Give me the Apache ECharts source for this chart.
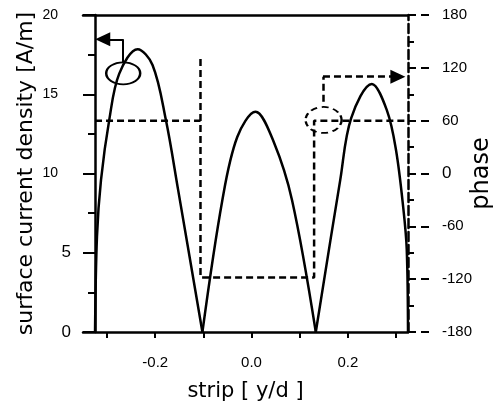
<!DOCTYPE html>
<html>
<head>
<meta charset="utf-8">
<script src="https://cdn.jsdelivr.net/npm/echarts@6/dist/echarts.min.js"></script>
<style>
html, body { margin: 0; padding: 0; background: #fff; }
#main { width: 499px; height: 407px; }
</style>
</head>
<body>
<div id="main"></div>
<script>
// surface current density [A/m] along the strip, one arch between each zero
var arch1 = [[-0.325, 0], [-0.321, 6.0], [-0.3126, 9.6], [-0.2954, 13.4], [-0.2747, 16.3],
             [-0.2366, 17.84], [-0.2056, 16.85], [-0.178, 13.4], [-0.1526, 9.0], [-0.102, 0]];
var arch2 = [[-0.102, 0], [-0.0607, 8.3], [-0.0296, 12.3], [0.0083, 13.9],
             [0.046, 12.0], [0.0843, 8.3], [0.1335, 0]];
var arch3 = [[0.1335, 0], [0.1843, 9.6], [0.207, 13.5], [0.2499, 15.65],
             [0.281, 14.0], [0.3, 11.5], [0.3153, 7.8], [0.3224, 5.2], [0.325, 0]];

// phase [deg], dashed
var phaseLeft = [[-0.325, 60], [-0.106, 60]];
var phaseRest = [[-0.106, 130], [-0.106, -118], [0.130, -118], [0.130, 60], [0.325, 60]];

// tick values
var xTicks = [-0.3, -0.2, -0.1, 0, 0.1, 0.2, 0.3];
var xLabels = [-0.2, 0, 0.2];

// which curve belongs to which axis
var solidRing = [-0.2665, 16.32];
var solidArrow = [[-0.2665, 17.0], [-0.2665, 18.47], [-0.309, 18.47]];
var dashedRing = [0.1497, 60.8];
var dashedArrow = [[0.1484, 81.5], [0.1484, 110], [0.304, 110]];

var tickFont = '"Liberation Sans", Arial, sans-serif';
var titleFont = '"DejaVu Sans", sans-serif';

var chart = echarts.init(document.getElementById('main'), null, { renderer: 'canvas' });

function curve(data) {
    return {
        type: 'line',
        xAxisIndex: 0,
        yAxisIndex: 0,
        data: data,
        symbol: 'none',
        smooth: 0.35,
        lineStyle: { color: '#000', width: 2.5 },
        silent: true
    };
}

var s1 = curve(arch1);
s1.markPoint = {
    silent: true,
    data: [{
        coord: solidRing, symbol: 'circle', symbolSize: [34, 22],
        itemStyle: { color: 'transparent', borderColor: '#000', borderWidth: 2 },
        label: { show: false }
    }]
};
s1.markLine = {
    silent: true,
    symbol: ['none', 'none'],
    label: { show: false },
    lineStyle: { color: '#000', width: 2, type: 'solid' },
    data: [
        [{ coord: solidArrow[0] }, { coord: solidArrow[1] }],
        [{ coord: solidArrow[1] }, { coord: solidArrow[2], symbol: 'triangle', symbolSize: [14, 15] }]
    ]
};

var phaseStyle = { color: '#000', width: 2.5, type: [7, 4] };

var option = {
    animation: false,
    backgroundColor: '#fff',
    grid: { left: 83, right: 91, top: 15, bottom: 75, containLabel: false, outerBoundsMode: 'none' },
    xAxis: [{
        type: 'value',
        min: -0.35,
        max: 0.325,
        position: 'bottom',
        axisLine: { show: true, onZero: false, lineStyle: { color: '#000', width: 2.5 } },
        axisTick: { show: true, length: 6, customValues: xTicks, lineStyle: { color: '#000', width: 2 } },
        axisLabel: {
            customValues: xLabels,
            margin: 23,
            color: '#000',
            fontFamily: tickFont,
            fontSize: 15,
            formatter: function (v) { return v.toFixed(1); }
        },
        splitLine: { show: false },
        name: 'strip [ y/d ]',
        nameLocation: 'middle',
        nameMoveOverlap: false,
        nameGap: 49,
        nameTextStyle: { color: '#000', fontFamily: titleFont, fontSize: 21 }
    }, {
        type: 'value',
        min: -0.35,
        max: 0.325,
        position: 'top',
        axisLine: { show: true, onZero: false, lineStyle: { color: '#000', width: 2.5 } },
        axisTick: { show: false },
        axisLabel: { show: false },
        splitLine: { show: false }
    }],
    yAxis: [{
        type: 'value',
        min: 0,
        max: 20,
        interval: 5,
        position: 'left',
        offset: -12,
        axisLine: { show: true, onZero: false, lineStyle: { color: '#000', width: 2.5 } },
        axisTick: { show: true, length: 12, lineStyle: { color: '#000', width: 2 } },
        minorTick: { show: true, splitNumber: 2, length: 7, lineStyle: { color: '#000', width: 2 } },
        axisLabel: {
            margin: 24,
            formatter: function (v) { return v >= 10 ? '{n|' + v + '}' : '{w|' + v + '}'; },
            rich: {
                n: { color: '#000', fontFamily: tickFont, fontSize: 14, padding: [0, 13, 0, 0] },
                w: { color: '#000', fontFamily: tickFont, fontSize: 17 }
            }
        },
        splitLine: { show: false },
        name: 'surface current density [A/m]',
        nameLocation: 'middle',
        nameMoveOverlap: false,
        nameRotate: 90,
        nameGap: 58,
        nameTextStyle: { color: '#000', fontFamily: titleFont, fontSize: 22 }
    }, {
        type: 'value',
        min: -180,
        max: 180,
        interval: 60,
        position: 'right',
        axisLine: { show: true, onZero: false, lineStyle: { color: '#000', width: 2.5, type: [9, 4] } },
        axisTick: { show: true, length: 22, lineStyle: { color: '#000', width: 2, type: [8, 5] } },
        minorTick: { show: true, splitNumber: 2, length: 9, lineStyle: { color: '#000', width: 2, type: [6, 4] } },
        axisLabel: {
            margin: 34,
            formatter: function (v) { return v === 0 ? '{w|0}' : '{n|' + v + '}'; },
            rich: {
                n: { color: '#000', fontFamily: tickFont, fontSize: 15 },
                w: { color: '#000', fontFamily: tickFont, fontSize: 17 }
            }
        },
        splitLine: { show: false },
        name: 'phase',
        nameLocation: 'middle',
        nameMoveOverlap: false,
        nameRotate: 90,
        nameGap: 62,
        nameTextStyle: { color: '#000', fontFamily: titleFont, fontSize: 24 }
    }],
    series: [
        s1,
        curve(arch2),
        curve(arch3),
        {
            type: 'line',
            xAxisIndex: 0,
            yAxisIndex: 1,
            data: phaseLeft,
            symbol: 'none',
            lineStyle: phaseStyle,
            silent: true
        },
        {
            type: 'line',
            xAxisIndex: 0,
            yAxisIndex: 1,
            data: phaseRest,
            symbol: 'none',
            lineStyle: phaseStyle,
            silent: true,
            markPoint: {
                silent: true,
                data: [{
                    coord: dashedRing, symbol: 'circle', symbolSize: [36, 26],
                    itemStyle: { color: 'transparent', borderColor: '#000', borderWidth: 2, borderType: [6, 4] },
                    label: { show: false }
                }]
            },
            markLine: {
                silent: true,
                symbol: ['none', 'none'],
                label: { show: false },
                lineStyle: { color: '#000', width: 2.5, type: [7, 4] },
                data: [
                    [{ coord: dashedArrow[0] }, { coord: dashedArrow[1] }],
                    [{ coord: dashedArrow[1] }, { coord: dashedArrow[2], symbol: 'triangle', symbolSize: [14, 15] }]
                ]
            }
        }
    ]
};

chart.setOption(option);
</script>
</body>
</html>
